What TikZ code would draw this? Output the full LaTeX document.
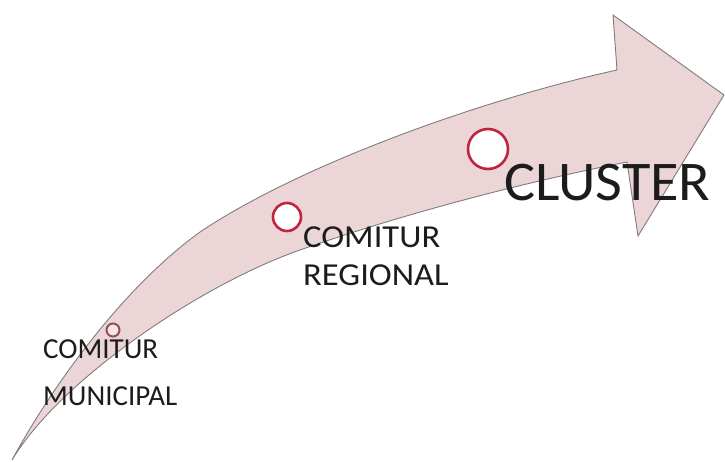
\documentclass[tikz,border=0pt]{standalone}
\usepackage{fontspec}
\setmainfont{Carlito}
\definecolor{arrowfill}{RGB}{236,213,214}
\definecolor{arrowline}{RGB}{128,124,124}
\definecolor{ringred}{RGB}{192,36,62}
\definecolor{ringdark}{RGB}{150,80,85}
\definecolor{txt}{RGB}{28,28,28}
\begin{document}
\begin{tikzpicture}[x=1pt,y=-1pt,
  bigarrow/.style={fill=arrowfill,draw=arrowline,line width=0.9pt,line join=miter},
  ring/.style={circle,draw=ringred,fill=white,line width=2.6pt,inner sep=0pt},
  lbl/.style={anchor=base west,inner sep=0pt,text=txt}]
\useasboundingbox (0,0) rectangle (725,461);
\coordinate (tail) at (12,460);
\coordinate (mid) at (200,232);
\coordinate (headup) at (617,70);
\coordinate (barbup) at (613,15);
\coordinate (tip) at (724,95);
\coordinate (barblow) at (638,236);
\coordinate (headlow) at (627,162);
\coordinate (midlow) at (300,250);
\path[bigarrow] (tail) .. controls (50,390) and (120,290) .. (mid)
  .. controls (300,165) and (480,100) .. (headup) -- (barbup) -- (tip)
  -- (barblow) -- (headlow) .. controls (520,183) and (400,215) .. (midlow)
  .. controls (200,285) and (60,380) .. cycle;
% rings
\node[ring,draw=ringdark,fill=arrowfill!60!white,line width=2pt,minimum size=13pt] (rmun) at (113,330) {};
\node[ring,minimum size=28pt] (rreg) at (287,217) {};
\node[ring,minimum size=40pt] (rclu) at (488,149) {};
% labels
\node[lbl,font=\fontsize{29}{34}\selectfont] (m1) at (43,358) {COMITUR};
\node[lbl,font=\fontsize{29}{34}\selectfont] (m2) at (43,405) {MUNICIPAL};
\node[lbl,font=\fontsize{32}{38}\selectfont] (g1) at (303,247) {\scalebox{1.08}[1]{COMITUR}};
\node[lbl,font=\fontsize{32}{38}\selectfont] (g2) at (303,285) {\scalebox{1.08}[1]{REGIONAL}};
\node[lbl,font=\fontsize{56}{60}\selectfont] (cl) at (504,200) {\scalebox{1.04}[1]{CLUSTER}};
\end{tikzpicture}
\end{document}
